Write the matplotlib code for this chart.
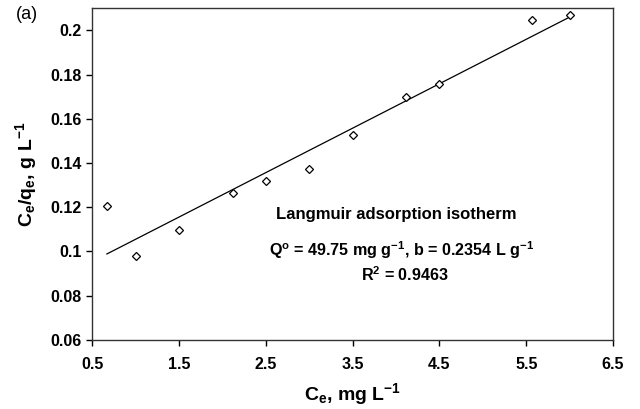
import numpy as np
import matplotlib
matplotlib.use("Agg")
from matplotlib import pyplot as plt

plt.rcParams['font.family'] = ['Liberation Sans', 'DejaVu Sans']
plt.rcParams['mathtext.fontset'] = 'custom'
plt.rcParams['mathtext.rm'] = 'Liberation Sans:bold'
plt.rcParams['mathtext.bf'] = 'Liberation Sans:bold'
plt.rcParams['mathtext.default'] = 'rm'

# equilibrium concentration and Ce/qe
ce = [0.67, 1.0, 1.5, 2.12, 2.5, 3.0, 3.5, 4.12, 4.5, 5.57, 6.0]
ce_qe = [0.1205, 0.098, 0.1095, 0.1264, 0.1318, 0.1372, 0.1526, 0.1699, 0.1756, 0.2045, 0.2071]

# Langmuir constants
q0 = 49.75
b = 0.2354

xticks = [0.5, 1.5, 2.5, 3.5, 4.5, 5.5, 6.5]
yticks = [0.06, 0.08, 0.1, 0.12, 0.14, 0.16, 0.18, 0.2]

fig = plt.figure(figsize=(6.4, 4.09), dpi=100)
ax = fig.add_axes([0.144, 0.169, 0.814, 0.811])

# linear form: Ce/qe = 1/(Q b) + Ce/Q
xfit = np.array([min(ce), max(ce)])
yfit = 1 / (q0 * b) + xfit / q0
ax.plot(xfit, yfit, color='black', lw=0.9)
ax.plot(ce, ce_qe, linestyle='none', marker='D', markersize=4.5,
        markerfacecolor='white', markeredgecolor='black', markeredgewidth=0.9)

ax.set_xlim(0.5, 6.5)
ax.set_ylim(0.06, 0.21)
ax.set_xticks(xticks)
ax.set_xticklabels([f"{t:g}" for t in xticks])
ax.set_yticks(yticks)
ax.set_yticklabels([f"{t:g}" for t in yticks])
ax.tick_params(direction='out', length=4, width=1, labelsize=11.5)
for lbl in ax.get_xticklabels() + ax.get_yticklabels():
    lbl.set_fontweight('bold')
ax.tick_params(axis='x', pad=8)
for s in ax.spines.values():
    s.set_linewidth(1.0)
    s.set_color('#333333')

ax.set_xlabel(r"C$_{e}$, mg L$^{-1}$", fontsize=14, fontweight='bold', labelpad=7)
ax.set_ylabel(r"C$_{e}$/q$_{e}$, g L$^{-1}$", fontsize=14, fontweight='bold', labelpad=8)

ax.text(4.0, 0.1165, "Langmuir adsorption isotherm", fontsize=12, fontweight='bold',
        ha='center', va='center')
ax.text(4.06, 0.1007, r"Q$^{o}$ = 49.75 mg g$^{-1}$, b = 0.2354 L g$^{-1}$", fontsize=11.6,
        fontweight='bold', ha='center', va='center')
ax.text(4.1, 0.0894, r"R$^{2}$ = 0.9463", fontsize=11.6, fontweight='bold',
        ha='center', va='center')

fig.text(0.025, 0.965, "(a)", fontsize=13, ha='left', va='center')

fig.savefig("out.png", dpi=100)
